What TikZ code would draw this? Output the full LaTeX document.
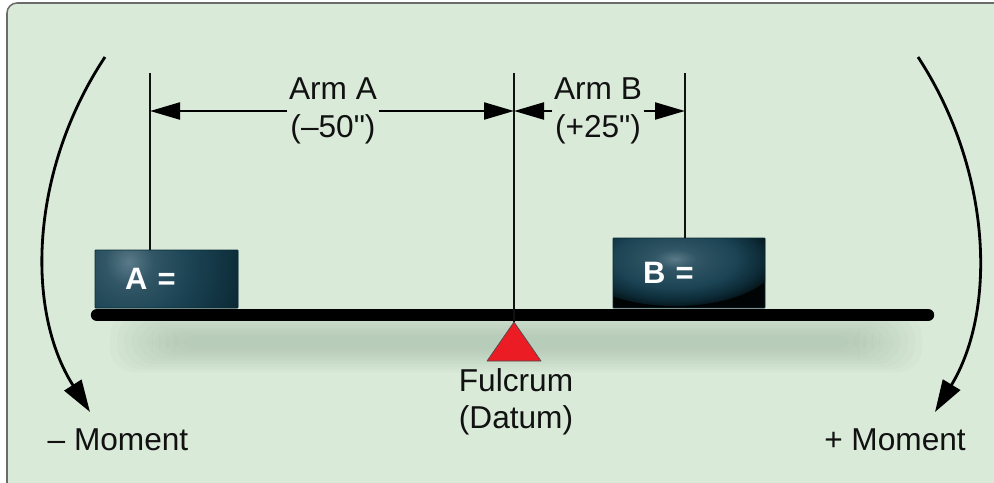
\documentclass[tikz,border=0pt]{standalone}
\usepackage{fontspec}
\setmainfont{Liberation Sans}
\newfontfamily\plainq{Liberation Sans}
\usepackage{tikz}
\usepackage{xcolor}
\usetikzlibrary{arrows.meta,positioning,calc}
\definecolor{panelbg}{HTML}{D9EAD9}
\definecolor{panelrim}{HTML}{6B6B6B}
\definecolor{shadowc}{HTML}{94AE97}
\definecolor{boxhi}{HTML}{5A7A88}
\definecolor{boxmid}{HTML}{1B4353}
\definecolor{boxdk}{HTML}{0C2A36}
\definecolor{boxblk}{HTML}{010405}
\definecolor{fulcred}{HTML}{EC1C24}
\definecolor{ink}{HTML}{111111}
\pgfdeclareradialshading{glowA}{\pgfpoint{0bp}{0bp}}{color(0bp)=(boxhi);
  color(5bp)=(boxmid!65!boxhi); color(13bp)=(boxmid); color(24bp)=(boxdk);
  color(50bp)=(boxdk)}
\pgfdeclareradialshading{glowB}{\pgfpoint{0bp}{0bp}}{color(0bp)=(boxhi);
  color(5bp)=(boxmid!65!boxhi); color(15bp)=(boxmid); color(21bp)=(boxdk);
  color(24bp)=(boxdk!50!boxblk); color(25bp)=(boxblk); color(50bp)=(boxblk)}
\tikzset{
  panel/.style={draw=panelrim,fill=panelbg,line width=1.1pt,rounded corners=2.5mm},
  massbox/.style={draw=boxdk,line width=0.5pt,rounded corners=0.4pt,
                  font=\fontsize{22}{26}\selectfont\bfseries,text=white,
                  align=left,inner xsep=7.5mm,inner ysep=0pt},
  beamline/.style={line width=3.1mm,line cap=round,draw=black},
  guide/.style={draw=ink,line width=0.8pt},
  dimarr/.style={-{Triangle[length=7.5mm,width=4.2mm]},line width=2pt,draw=black},
  momentarr/.style={-{Triangle[length=8mm,width=5mm]},line width=2pt,draw=black},
  lbl/.style={font=\fontsize{22.5}{26.5}\selectfont,text=ink,align=center,inner sep=1pt},
  fulc/.style={draw=black!70,fill=fulcred,line width=0.5pt,line join=round}
}
\begin{document}
\begin{tikzpicture}[x=0.25mm,y=-0.25mm]
  \useasboundingbox (0,0) rectangle (994,482);
  \fill[white] (0,0) rectangle (994,482);
  \draw[panel] (7,3) rectangle (1010,500);

  % soft shadow under the beam
  \foreach \k in {0,...,9}{
    \fill[shadowc,opacity=0.055,rounded corners=6mm]
      (110+\k*7,342-30+\k*2.6) rectangle (922-\k*7,342+30-\k*2.6);
  }

  % datum and arm guides
  \coordinate (topA) at (150,73);
  \coordinate (topD) at (514,73);
  \coordinate (topB) at (685,73);
  \coordinate (pivot) at (514,322);

  % masses on the beam
  \node[massbox,text width=20.75mm,minimum height=14.5mm,fill=boxdk,
        path picture={\shade[shading=glowA]
          ([xshift=8.5mm,yshift=-3mm]path picture bounding box.north west) circle (30mm);}]
    (boxA) at (166.5,279) {A =};
  \node[massbox,text width=23mm,minimum height=17.5mm,fill=boxblk,
        path picture={\shade[shading=glowB]
          ([xshift=15.5mm,yshift=-5mm]path picture bounding box.north west)
          ellipse [x radius=26mm,y radius=12mm];}]
    (boxB) at (689,273) {B =};

  \draw[beamline] (97,315) coordinate (beamL) -- (928,315) coordinate (beamR);
  \draw[fulc] (pivot) -- (487,361) -- (541,361) -- cycle;

  \draw[guide] (topA) -- (topA |- boxA.north);
  \draw[guide] (topB) -- (topB |- boxB.north);
  \draw[guide] (topD) -- (pivot);

  % arm dimensions
  \node[lbl] (armA) at (333,111) {Arm A\\(–50{\plainq"})};
  \node[lbl] (armB) at (598,111) {Arm B\\(+25{\plainq"})};
  \draw[dimarr] (armA.west |- 0,111) -- (topA |- 0,111);
  \draw[dimarr] (armA.east |- 0,111) -- (topD |- 0,111);
  \draw[dimarr] (armB.west |- 0,111) -- (topD |- 0,111);
  \draw[dimarr] (armB.east |- 0,111) -- (topB |- 0,111);

  % moments
  \node[lbl] (negM) at (118,440) {– Moment};
  \node[lbl] (posM) at (895,440) {+ Moment};
  \node[lbl] (fulcrum) at (516,402) {Fulcrum\\(Datum)};
  \draw[momentarr] (105,57) .. controls (30,170) and (25,310) .. (90,412);
  \draw[momentarr] (918,57) .. controls (992,170) and (997,310) .. (935,412);
\end{tikzpicture}
\end{document}
